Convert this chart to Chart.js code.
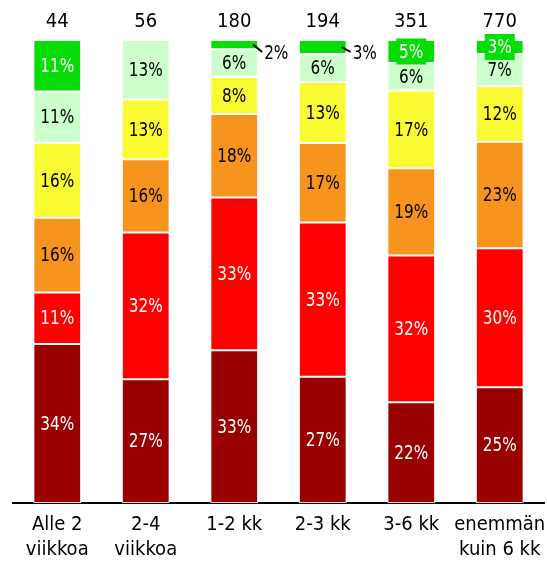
<!DOCTYPE html>
<html>
<head>
<meta charset="utf-8">
<script src="https://cdn.jsdelivr.net/npm/chart.js@4/dist/chart.umd.min.js"></script>
<style>
  html, body { margin: 0; padding: 0; background: #fff; }
  #wrap { width: 547px; height: 561px; }
</style>
</head>
<body>
<div id="wrap"><canvas id="myChart" width="547" height="561"></canvas></div>
<script>
const CATEGORIES = [['Alle 2', 'viikkoa'], ['2-4', 'viikkoa'], '1-2 kk', '2-3 kk', '3-6 kk', ['enemmän', 'kuin 6 kk']]
const TOTALS = [44, 56, 180, 194, 351, 770]

// shares in percent, bottom segment first
const DARK_RED = [34, 27, 33, 27, 22, 25]
const RED = [11, 32, 33, 33, 32, 30]
const ORANGE = [16, 16, 18, 17, 19, 23]
const YELLOW = [16, 13, 8, 13, 17, 12]
const LIGHT_GREEN = [11, 13, 6, 6, 6, 7]
const GREEN = [11, 0, 2, 3, 5, 3]

const SERIES = [DARK_RED, RED, ORANGE, YELLOW, LIGHT_GREEN, GREEN]
const COLORS = ['#990000', '#ff0000', '#f7941d', '#fafa32', '#ccffcc', '#06dc06']
const TEXT_COLORS = ['#fff', '#fff', '#000', '#000', '#000', '#fff']
const FONT = '"DejaVu Sans Condensed", "DejaVu Sans", sans-serif'

// rounded shares don't always add up to 100, so stretch each column to full height
const colSums = CATEGORIES.map((c, i) => SERIES.reduce((s, arr) => s + arr[i], 0))

// squeezed text, the original font is narrower than DejaVu
function narrowText(ctx, text, x, y, align) {
  ctx.save()
  ctx.translate(x, y)
  ctx.scale(0.85, 1)
  ctx.textAlign = align || 'center'
  ctx.fillText(text, 0, 0)
  ctx.restore()
}

const labelPlugin = {
  id: 'segLabels',
  afterDatasetsDraw(chart) {
    const ctx = chart.ctx
    const area = chart.chartArea
    ctx.save()
    ctx.textBaseline = 'middle'
    ctx.font = '20px ' + FONT
    chart.data.datasets.forEach((ds, di) => {
      const meta = chart.getDatasetMeta(di)
      meta.data.forEach((bar, i) => {
        const v = SERIES[di][i]
        if (!v) return
        const top = Math.min(bar.y, bar.base)
        const bottom = Math.max(bar.y, bar.base)
        const cy = (top + bottom) / 2
        const text = v + '%'
        if (di == 5 && v < 4 && (i == 2 || i == 3)) {
          // small slice: label outside with a leader line
          const right = bar.x + bar.width / 2
          const ty = area.top + 13
          ctx.strokeStyle = '#000'
          ctx.lineWidth = 2
          ctx.beginPath()
          ctx.moveTo(right - 5, cy)
          ctx.lineTo(right + 4, ty - 1)
          ctx.stroke()
          ctx.fillStyle = '#000'
          narrowText(ctx, text, right + 6, ty + 1, 'left')
          return
        }
        if (di == 5 && v < 6) {
          // label box sticks out of the thin segment
          ctx.fillStyle = COLORS[di]
          ctx.fillRect(bar.x - 15, cy - 13, 30, 26)
        }
        ctx.fillStyle = TEXT_COLORS[di]
        narrowText(ctx, text, bar.x, cy + 1)
      })
    })
    // totals above the bars
    const meta = chart.getDatasetMeta(0)
    ctx.fillStyle = '#000'
    ctx.font = '20px ' + FONT
    ctx.textAlign = 'center'
    meta.data.forEach((bar, i) => {
      ctx.fillText(String(TOTALS[i]), bar.x, area.top - 18)
    })
    ctx.restore()
  }
}

const datasets = SERIES.map((arr, di) => ({
  label: 'sarja ' + (di + 1),
  data: arr.map((v, i) => v / colSums[i] * 100),
  backgroundColor: COLORS[di],
  borderColor: 'rgba(255,255,255,0.85)',
  borderWidth: 1,
  borderSkipped: false,
  categoryPercentage: 1,
  barPercentage: 0.54
}))

new Chart(document.getElementById('myChart'), {
  type: 'bar',
  data: { labels: CATEGORIES, datasets: datasets },
  options: {
    responsive: false,
    animation: false,
    layout: { padding: { left: 13, right: 3, top: 40, bottom: 1 } },
    plugins: { legend: { display: false }, tooltip: { enabled: false } },
    scales: {
      x: {
        stacked: true,
        grid: { display: false, drawTicks: false },
        border: { color: '#000', width: 2 },
        ticks: { color: '#000', font: { family: FONT, size: 20, lineHeight: 1.25 }, padding: 9, maxRotation: 0, autoSkip: false },
        afterFit: s => {
          s.height = 57
          s.paddingLeft = 0
          s.paddingRight = 0
        }
      },
      y: {
        stacked: true,
        display: false,
        min: 0,
        max: 100
      }
    }
  },
  plugins: [labelPlugin]
})
</script>
</body>
</html>
